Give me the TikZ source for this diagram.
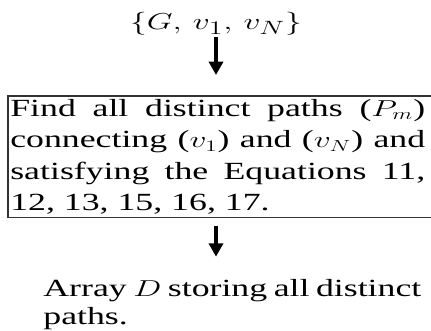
\documentclass[tikz,border=0pt]{standalone}
\usepackage{amsmath}
\usepackage{fontspec}
\setmainfont{Liberation Serif}
\usetikzlibrary{arrows.meta,positioning,calc}

\begin{document}
\begin{tikzpicture}[
    wide/.style={xscale=1.45, transform shape},
    plain/.style={wide, inner sep=0pt, font=\fontsize{19}{19}\selectfont},
    procbox/.style={wide, anchor=north west, inner xsep=1pt, inner ysep=0pt, minimum height=90.75pt, text width=214.6pt, align=justify, font=\fontsize{18.5}{23.5}\selectfont},
    outtext/.style={wide, anchor=north west, inner sep=0pt, text width=195.5pt, align=justify, font=\fontsize{18.5}{20.5}\selectfont},
    arrow/.style={-{Triangle[length=10pt,width=10.5pt]}, line width=2.6pt, draw=black},
    boxline/.style={draw=black!80, line width=1pt}
]
    \useasboundingbox (0,0) rectangle (323.25pt,-248.25pt);
    \coordinate (edge) at (323.25pt,0);

    \node (input) [plain] at (162pt,-18pt) {$\{G,\, v_1,\, v_N\}$};
    \node (find) [procbox] at (6pt,-72pt) {Find all distinct paths ($P_m$)\linebreak connecting ($v_1$) and ($v_N$) and\linebreak satisfying the Equations 11,\linebreak 12, 13, 15, 16, 17.};
    \node (store) [outtext] at (32.25pt,-209.5pt) {Array $D$ storing all distinct\linebreak paths.};

    % box is open on the right, cut by the page edge
    \draw [boxline] (find.north west -| edge) -- (find.north west) -- (find.south west) -- (find.south west -| edge);

    \draw [arrow] ([yshift=-1pt]input.south) -- ([yshift=15.75pt]input.south |- find.north);
    \draw [arrow] ([yshift=-6pt]input |- find.south) -- ([yshift=17pt]input |- store.north);
\end{tikzpicture}
\end{document}
